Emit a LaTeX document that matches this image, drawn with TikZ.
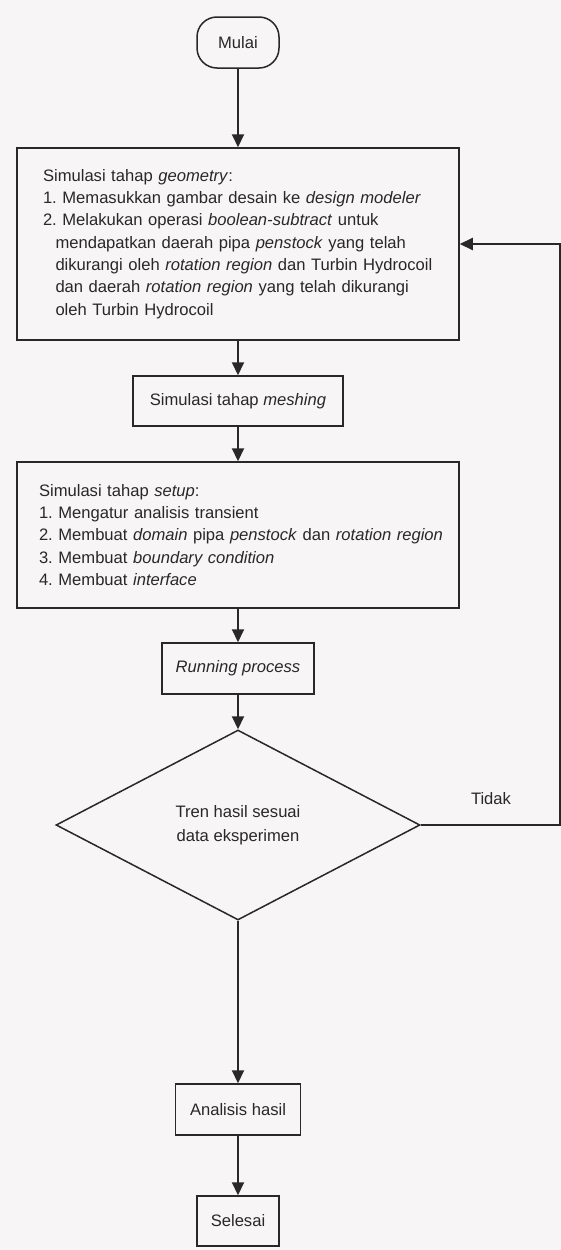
\documentclass[tikz,border=0pt]{standalone}
\usepackage{fontspec}
\setmainfont{Liberation Sans}
\usetikzlibrary{shapes.geometric,arrows.meta}
\definecolor{bg}{RGB}{248,245,246}
\definecolor{ink}{RGB}{40,40,40}
\newcommand\oneline[1]{\mbox{#1}}
\frenchspacing
\begin{document}
\begin{tikzpicture}[x=1pt,y=-1pt,
  every node/.style={font=\fontsize{16.6}{22.3}\selectfont, text=ink},
  box/.style={draw=ink, line width=1.5pt, rectangle, inner sep=0pt, align=center},
  conn/.style={draw=ink, line width=2pt, -{Triangle[length=13pt,width=12pt]}},
  link/.style={draw=ink, line width=2pt}]
\fill[bg] (0,0) rectangle (561,1250);
\useasboundingbox (0,0) rectangle (561,1250);

\node[box, rounded corners=20pt, minimum width=82pt, minimum height=51pt] (start) at (238,42.5) {Mulai};

\node[box, minimum width=442pt, minimum height=192pt, text width=390pt, inner xsep=26pt, align=left] (geo) at (238,244) {%
\oneline{Simulasi tahap \textit{geometry}:}\\
\oneline{1. Memasukkan gambar desain ke \textit{design modeler}}\\
\oneline{2. Melakukan operasi \textit{boolean-subtract} untuk}\\
\oneline{\hspace*{12.5pt}mendapatkan daerah pipa \textit{penstock} yang telah}\\
\oneline{\hspace*{12.5pt}dikurangi oleh \textit{rotation region} dan Turbin Hydrocoil}\\
\oneline{\hspace*{12.5pt}dan daerah \textit{rotation region} yang telah dikurangi}\\
\oneline{\hspace*{12.5pt}oleh Turbin Hydrocoil}};

\node[box, minimum width=210pt, minimum height=50pt] (mesh) at (238,401) {Simulasi tahap \textit{meshing}};

\node[box, minimum width=442pt, minimum height=146pt, text width=398pt, inner xsep=22pt, align=left] (setup) at (238,535) {%
\oneline{Simulasi tahap \textit{setup}:}\\
\oneline{1. Mengatur analisis transient}\\
\oneline{2. Membuat \textit{domain} pipa \textit{penstock} dan \textit{rotation region}}\\
\oneline{3. Membuat \textit{boundary condition}}\\
\oneline{4. Membuat \textit{interface}}};

\node[box, minimum width=152pt, minimum height=51pt] (run) at (238,668.5) {\textit{Running process}};

\node[draw=ink, line width=1.5pt, diamond, aspect=1.9, inner sep=0pt, minimum width=364pt, minimum height=190pt, align=center,
  font=\fontsize{16.6}{24}\selectfont] (dec) at (238,825) {Tren hasil sesuai\\data eksperimen};

\node (no) at (491,799) {Tidak};

\node[box, minimum width=125pt, minimum height=51pt] (anal) at (238,1109.5) {Analisis hasil};
\node[box, minimum width=82pt, minimum height=50pt] (end) at (238,1221) {Selesai};

\coordinate (fb) at (559.5,244);

\draw[conn] (start) -- (geo);
\draw[conn] (geo) -- (mesh);
\draw[conn] (mesh) -- (setup);
\draw[conn] (setup) -- (run);
\draw[conn] (run) -- (dec);
\draw[conn] (dec) -- (anal);
\draw[conn] (anal) -- (end);
\draw[conn] (dec.east) -| (fb) -- (geo.east);
\end{tikzpicture}
\end{document}
